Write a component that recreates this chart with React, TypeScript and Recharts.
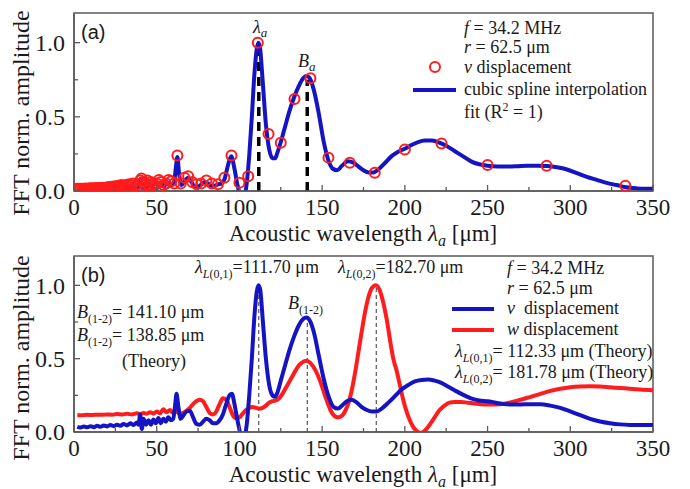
import React from 'react'
import { ComposedChart, Line, XAxis, YAxis, ReferenceLine, ReferenceArea } from 'recharts'

const SERIF = '"Liberation Serif", "Times New Roman", serif'
const SANS = '"Liberation Sans", Arial, sans-serif'
const AXIS = '#5a5a5a'
const INK = '#1a1a1a'
const BLUE = '#1414c4'
const RED = '#ff1c1c'

// ── axis ticks ────────────────────────────────────────────────────────────────
const xTicks = [0, 25, 50, 75, 100, 125, 150, 175, 200, 225, 250, 275, 300, 325, 350]
const yTicks = [0, 0.25, 0.5, 0.75, 1.0]

// ── panel (a): sampled v displacement (circles) ───────────────────────────────
const circleX = [
  333.3, 285.7, 250, 222.2, 200, 181.8, 166.7, 153.8, 142.9, 133.3, 125, 117.6, 111.1, 105.3, 100, 95.2,
  90.9, 87, 83.3, 80, 76.9, 74.1, 71.4, 69, 66.7, 64.5, 62.5, 60.6, 58.8, 57.1, 55.6, 54.1, 52.6, 51.3,
  50, 48.8, 47.6, 46.5, 45.5, 44.4, 43.5, 42.6, 41.7, 40.8, 40, 38.5, 37, 35.7, 34.5, 33.3, 32.3, 31.3,
  30.3, 29.4, 28.6, 27.8, 27, 26.3, 25.6, 25, 24.4, 23.8, 23.3, 22.7, 22.2, 21.7, 21.3, 20.8, 20.4, 20,
  19, 18, 17, 16, 15, 14, 13, 12, 11, 10, 9, 8, 7, 6, 5, 4, 3, 2,
]
const circleY = [
  0.035, 0.17, 0.175, 0.32, 0.28, 0.123, 0.19, 0.225, 0.76, 0.62, 0.325, 0.385, 1.0, 0.1, 0.055, 0.24,
  0.09, 0.045, 0.05, 0.07, 0.05, 0.045, 0.06, 0.1, 0.09, 0.05, 0.24, 0.05, 0.065, 0.075, 0.05, 0.04, 0.06, 0.075,
  0.05, 0.04, 0.05, 0.06, 0.04, 0.07, 0.05, 0.04, 0.06, 0.085, 0.07, 0.045, 0.035, 0.05, 0.04, 0.045, 0.03, 0.04,
  0.035, 0.03, 0.04, 0.03, 0.035, 0.028, 0.032, 0.03, 0.025, 0.03, 0.026, 0.028, 0.024, 0.026, 0.022, 0.025, 0.022, 0.024,
  0.022, 0.02, 0.022, 0.019, 0.02, 0.018, 0.019, 0.018, 0.017, 0.018, 0.017, 0.016, 0.017, 0.016, 0.016, 0.015, 0.016, 0.015,
]

// ── panel (a): cubic spline fit ───────────────────────────────────────────────
const splineX = [
  2, 5, 8, 11, 14, 17, 20, 23, 25, 27, 29, 31, 33, 35, 37, 39, 40, 41, 42.5, 44, 45.5, 47, 48.5, 50, 51.5,
  53, 54.5, 56, 57.5, 59, 60.5, 61.5, 62.5, 63.5, 65, 67, 69, 71, 73, 75, 77, 79, 81, 83, 85, 87, 89, 91,
  93, 95, 97, 99, 101, 103, 104.5, 106, 107.5, 109, 110.5, 111.5, 112.5, 114, 116, 118, 120, 121.5, 123,
  125, 127.5, 130, 133, 136, 138.5, 140.5, 142.5, 145, 148, 151, 154, 156.5, 159, 162, 165.5, 169, 172,
  175, 178, 181, 184, 188, 192, 196, 200, 204, 208, 212, 216, 220, 225, 230, 235, 240, 245, 250, 256, 262,
  268, 274, 280, 286, 292, 298, 304, 310, 316, 322, 328, 334, 340, 345, 350,
]
const splineY = [
  0.005, 0.008, 0.006, 0.01, 0.008, 0.012, 0.01, 0.015, 0.012, 0.02, 0.015, 0.025, 0.018, 0.03, 0.02, 0.04,
  0.08, 0.02, 0.045, 0.03, 0.05, 0.025, 0.045, 0.055, 0.03, 0.055, 0.03, 0.06, 0.05, 0.04, 0.06, 0.15, 0.23,
  0.12, 0.04, 0.07, 0.09, 0.06, 0.03, 0.03, 0.045, 0.06, 0.05, 0.035, 0.035, 0.045, 0.05, 0.08, 0.17, 0.235,
  0.15, 0.03, -0.03, -0.03, 0.06, 0.25, 0.5, 0.78, 0.96, 1.0, 0.96, 0.75, 0.45, 0.28, 0.22, 0.22, 0.26, 0.33,
  0.43, 0.53, 0.63, 0.71, 0.76, 0.775, 0.76, 0.68, 0.52, 0.33, 0.2, 0.15, 0.14, 0.17, 0.2, 0.19, 0.165, 0.14,
  0.125, 0.125, 0.145, 0.19, 0.235, 0.265, 0.285, 0.31, 0.33, 0.34, 0.34, 0.33, 0.305, 0.27, 0.235, 0.2, 0.18,
  0.17, 0.165, 0.165, 0.167, 0.17, 0.17, 0.168, 0.16, 0.145, 0.12, 0.095, 0.075, 0.055, 0.04, 0.025, 0.018,
  0.015, 0.015,
]

// ── panel (b): v displacement ─────────────────────────────────────────────────
const vX = [
  2, 4, 6, 8, 10, 12, 14, 16, 18, 20, 22, 24, 26, 28, 30, 32, 34, 36, 38, 39, 40, 41, 42, 43.5, 45, 46.5, 48,
  49.5, 51, 52.5, 54, 55.5, 57, 58.5, 60, 61, 62, 63, 64.5, 66, 68, 70, 72, 74, 76, 78, 80, 82, 84, 86, 88, 90,
  92, 94, 95.5, 97, 99, 101, 103, 104.5, 106, 107.5, 109, 110.5, 111.6, 112.7, 114, 116, 118, 120, 121.5, 123,
  125, 127.5, 130, 133, 136, 138.5, 140.5, 142.5, 145, 148, 151, 154, 157, 159.5, 162, 165, 168, 171, 174, 177,
  180, 183, 186, 190, 194, 198, 202, 206, 210, 214, 218, 222, 226, 230, 235, 240, 245, 250, 255, 260, 265, 270,
  276, 282, 288, 294, 300, 306, 312, 318, 324, 330, 336, 342, 350,
]
const vY = [
  0.035, 0.03, 0.038, 0.032, 0.04, 0.033, 0.042, 0.035, 0.045, 0.038, 0.048, 0.04, 0.05, 0.042, 0.055, 0.045,
  0.06, 0.048, 0.065, 0.05, 0.12, 0.02, 0.09, 0.05, 0.08, 0.05, 0.085, 0.06, 0.095, 0.06, 0.09, 0.07, 0.1, 0.08,
  0.09, 0.17, 0.26, 0.18, 0.09, 0.11, 0.14, 0.145, 0.1, 0.055, 0.05, 0.07, 0.09, 0.08, 0.06, 0.06, 0.08, 0.12,
  0.19, 0.25, 0.26, 0.19, 0.07, -0.02, -0.03, 0.06, 0.26, 0.5, 0.78, 0.96, 1.0, 0.96, 0.78, 0.5, 0.32, 0.25,
  0.24, 0.27, 0.35, 0.45, 0.55, 0.65, 0.73, 0.77, 0.78, 0.76, 0.68, 0.52, 0.36, 0.24, 0.17, 0.16, 0.18, 0.21,
  0.22, 0.2, 0.17, 0.15, 0.14, 0.14, 0.16, 0.2, 0.245, 0.29, 0.32, 0.345, 0.355, 0.358, 0.35, 0.335, 0.31,
  0.285, 0.255, 0.23, 0.215, 0.21, 0.2, 0.19, 0.187, 0.188, 0.19, 0.19, 0.18, 0.165, 0.14, 0.115, 0.09, 0.072,
  0.06, 0.052, 0.048, 0.047, 0.047,
]

// ── panel (b): w displacement ─────────────────────────────────────────────────
const wX = [
  2, 5, 8, 11, 14, 17, 20, 23, 26, 29, 32, 35, 38, 40, 42, 44, 46, 48, 50, 52, 54, 56, 58, 60, 62, 64, 66, 68,
  70, 72, 74, 76, 78, 80, 82, 84, 86, 88, 90, 92, 94, 96, 98, 100, 102, 104, 106, 108, 110, 112, 114, 116, 118,
  120, 122, 124, 126, 128, 130, 132, 134, 136, 138, 140.5, 143, 146, 149, 152, 155, 158, 160, 162, 164, 166,
  168, 170, 172, 174, 176, 178, 180, 182.5, 185, 187, 189, 191, 193, 195, 197, 199, 201, 203, 205, 207, 209,
  211, 213, 215, 218, 221, 224, 227, 230, 234, 238, 242, 246, 250, 255, 260, 265, 270, 276, 282, 288, 294,
  300, 306, 312, 318, 324, 330, 336, 342, 350,
]
const wY = [
  0.115, 0.115, 0.117, 0.116, 0.118, 0.117, 0.12, 0.118, 0.122, 0.12, 0.124, 0.12, 0.127, 0.122, 0.13, 0.125,
  0.135, 0.125, 0.14, 0.128, 0.155, 0.135, 0.15, 0.13, 0.14, 0.125, 0.13, 0.145, 0.165, 0.19, 0.21, 0.22, 0.21,
  0.17, 0.13, 0.12, 0.14, 0.19, 0.23, 0.22, 0.17, 0.115, 0.095, 0.1, 0.125, 0.15, 0.165, 0.17, 0.165, 0.16,
  0.165, 0.18, 0.2, 0.21, 0.215, 0.23, 0.26, 0.3, 0.34, 0.38, 0.42, 0.455, 0.475, 0.485, 0.47, 0.42, 0.34,
  0.24, 0.15, 0.105, 0.1, 0.11, 0.145, 0.2, 0.29, 0.41, 0.55, 0.69, 0.82, 0.92, 0.98, 1.0, 0.96, 0.88, 0.77,
  0.63, 0.5, 0.42, 0.32, 0.22, 0.14, 0.08, 0.035, 0.008, -0.005, 0.0, 0.02, 0.05, 0.1, 0.15, 0.18, 0.2, 0.205,
  0.205, 0.2, 0.195, 0.19, 0.188, 0.188, 0.192, 0.205, 0.22, 0.24, 0.26, 0.28, 0.295, 0.305, 0.31, 0.312,
  0.31, 0.305, 0.3, 0.295, 0.29, 0.285,
]

const zip = (xs: number[], ys: number[]) => xs.map((x, i) => ({ x, y: ys[i] }))

const circles = zip(circleX, circleY)
const spline = zip(splineX, splineY)
const vLine = zip(vX, vY)
const wLine = zip(wX, wY)

// ── ticks pointing inward ─────────────────────────────────────────────────────
function XTick(props: any) {
  const { x, y, payload } = props
  const major = payload.value % 50 === 0
  return (
    <g>
      <line x1={x} x2={x} y1={y} y2={y - (major ? 6 : 4)} stroke={AXIS} strokeWidth={1.3} />
      {major && (
        <text x={x} y={y + 24} textAnchor="middle" fontSize={23} fontFamily={SERIF} fill={INK}>
          {payload.value}
        </text>
      )}
    </g>
  )
}

function YTick(props: any) {
  const { x, y, payload } = props
  const major = Math.abs(payload.value * 2 - Math.round(payload.value * 2)) < 1e-6
  return (
    <g>
      <line x1={x} x2={x + (major ? 6 : 4)} y1={y} y2={y} stroke={AXIS} strokeWidth={1.3} />
      {major && (
        <text x={x - 9} y={y} dy="0.35em" textAnchor="end" fontSize={24} fontFamily={SERIF} fill={INK}>
          {payload.value.toFixed(1)}
        </text>
      )}
    </g>
  )
}

function Panel({ height, top, bottom, children }: { height: number; top: number; bottom: number; children: React.ReactNode }) {
  return (
    <ComposedChart width={690} height={height} margin={{ top, right: 37, left: 14, bottom }}>
      <XAxis
        type="number" dataKey="x" domain={[0, 350]} ticks={xTicks} interval={0} allowDataOverflow
        height={30} tickSize={0} tickMargin={0} tickLine={false} tick={<XTick />}
        axisLine={{ stroke: AXIS, strokeWidth: 1.5 }}
      />
      <YAxis
        type="number" domain={[0, 1.2]} ticks={yTicks} interval={0} allowDataOverflow
        width={60} tickSize={0} tickMargin={0} tickLine={false} tick={<YTick />}
        axisLine={{ stroke: AXIS, strokeWidth: 1.5 }}
      />
      <ReferenceArea x1={0} x2={350} y1={0} y2={1.2} fill="none" stroke={AXIS} strokeWidth={1.5} />
      {children}
    </ComposedChart>
  )
}

const T = (p: any) => <text fontFamily={SERIF} fontSize={18} fill={INK} {...p} />

function Overlay() {
  return (
    <svg width={690} height={489} style={{ position: 'absolute', left: 0, top: 0, pointerEvents: 'none' }}>
      {/* axis titles */}
      {[113, 358].map((cy) => (
        <text key={cy} x={0} y={0} transform={`translate(29 ${cy}) rotate(-90)`} textAnchor="middle"
          fontFamily={SERIF} fontSize={24} fill={INK}>FFT norm. amplitude</text>
      ))}
      {[241, 482].map((by) => (
        <text key={by} x={363} y={by} textAnchor="middle" fontFamily={SERIF} fontSize={23} fill={INK}>
          Acoustic wavelength <tspan fontStyle="italic">λ</tspan><tspan fontStyle="italic" fontSize={16} dy={5}>a</tspan>
          <tspan dy={-5}> [μm]</tspan>
        </text>
      ))}

      {/* panel (a) */}
      <text x={81} y={39} fontFamily={SANS} fontSize={20} fill={INK}>(a)</text>
      <T x={253} y={33}><tspan fontStyle="italic">λ</tspan><tspan fontStyle="italic" fontSize={13} dy={4}>a</tspan></T>
      <T x={298} y={67}><tspan fontStyle="italic">B</tspan><tspan fontStyle="italic" fontSize={13} dy={4}>a</tspan></T>
      <T x={464} y={34}><tspan fontStyle="italic">f</tspan> = 34.2 MHz</T>
      <T x={464} y={53}><tspan fontStyle="italic">r</tspan> = 62.5 μm</T>
      <circle cx={435} cy={67} r={5} fill="none" stroke={RED} strokeWidth={2} />
      <T x={464} y={73}><tspan fontStyle="italic">v</tspan> displacement</T>
      <line x1={413} x2={456} y1={90} y2={90} stroke={BLUE} strokeWidth={4} />
      <T x={464} y={95}>cubic spline interpolation</T>
      <T x={464} y={118}>fit (R<tspan fontSize={12} dy={-7}>2</tspan><tspan dy={7}> = 1)</tspan></T>

      {/* panel (b) */}
      <text x={81} y={282} fontFamily={SANS} fontSize={20} fill={INK}>(b)</text>
      <T x={195} y={273}><tspan fontStyle="italic">λ</tspan><tspan fontSize={12} dy={5}><tspan fontStyle="italic">L</tspan>(0,1)</tspan><tspan dy={-5}>=111.70 μm</tspan></T>
      <T x={338} y={273}><tspan fontStyle="italic">λ</tspan><tspan fontSize={12} dy={5}><tspan fontStyle="italic">L</tspan>(0,2)</tspan><tspan dy={-5}>=182.70 μm</tspan></T>
      <T x={288} y={309}><tspan fontStyle="italic">B</tspan><tspan fontSize={12} dy={5}>(1-2)</tspan></T>
      <T x={507} y={274}><tspan fontStyle="italic">f</tspan> = 34.2 MHz</T>
      <T x={507} y={294}><tspan fontStyle="italic">r</tspan> = 62.5 μm</T>
      <line x1={452} x2={494} y1={309} y2={309} stroke={BLUE} strokeWidth={4} />
      <T x={507} y={314}><tspan fontStyle="italic">v</tspan>{'\u00a0 displacement'}</T>
      <line x1={452} x2={494} y1={330} y2={330} stroke={RED} strokeWidth={4} />
      <T x={507} y={335}><tspan fontStyle="italic">w</tspan> displacement</T>
      <T x={455} y={357}><tspan fontStyle="italic">λ</tspan><tspan fontSize={12} dy={5}><tspan fontStyle="italic">L</tspan>(0,1)</tspan><tspan dy={-5}>= 112.33 μm (Theory)</tspan></T>
      <T x={455} y={378}><tspan fontStyle="italic">λ</tspan><tspan fontSize={12} dy={5}><tspan fontStyle="italic">L</tspan>(0,2)</tspan><tspan dy={-5}>= 181.78 μm (Theory)</tspan></T>
      <T x={77} y={318}><tspan fontStyle="italic">B</tspan><tspan fontSize={12} dy={5}>(1-2)</tspan><tspan dy={-5}>= 141.10 μm</tspan></T>
      <T x={77} y={341}><tspan fontStyle="italic">B</tspan><tspan fontSize={12} dy={5}>(1-2)</tspan><tspan dy={-5}>= 138.85 μm</tspan></T>
      <T x={154} y={367} textAnchor="middle">(Theory)</T>
    </svg>
  )
}

export default function App() {
  return (
    <div style={{ position: 'absolute', left: 0, top: 0, width: 690, height: 489, background: '#fff', fontFamily: SERIF }}>
      <div style={{ position: 'absolute', left: 0, top: 0 }}>
        <Panel height={245} top={13} bottom={24}>
          <ReferenceLine segment={[{ x: 111.7, y: 0 }, { x: 111.7, y: 0.96 }]} stroke="#000" strokeWidth={3.5} strokeDasharray="9 6" />
          <ReferenceLine segment={[{ x: 141, y: 0 }, { x: 141, y: 0.75 }]} stroke="#000" strokeWidth={3.5} strokeDasharray="9 6" />
          <Line data={circles} dataKey="y" stroke="none" isAnimationActive={false}
            dot={{ r: 5, stroke: RED, strokeWidth: 2, fill: 'none' }} />
          <Line data={spline} dataKey="y" type="monotone" stroke={BLUE} strokeWidth={4} dot={false} isAnimationActive={false} />
        </Panel>
      </div>
      <div style={{ position: 'absolute', left: 0, top: 245 }}>
        <Panel height={244} top={11} bottom={27}>
          <ReferenceLine segment={[{ x: 111.7, y: 0 }, { x: 111.7, y: 1.0 }]} stroke="#333" strokeWidth={1} strokeDasharray="4 3" />
          <ReferenceLine segment={[{ x: 141, y: 0 }, { x: 141, y: 0.77 }]} stroke="#333" strokeWidth={1} strokeDasharray="4 3" />
          <ReferenceLine segment={[{ x: 182.7, y: 0 }, { x: 182.7, y: 1.0 }]} stroke="#333" strokeWidth={1} strokeDasharray="4 3" />
          <Line data={wLine} dataKey="y" type="monotone" stroke={RED} strokeWidth={4} dot={false} isAnimationActive={false} />
          <Line data={vLine} dataKey="y" type="monotone" stroke={BLUE} strokeWidth={4} dot={false} isAnimationActive={false} />
        </Panel>
      </div>
      <Overlay />
    </div>
  )
}
